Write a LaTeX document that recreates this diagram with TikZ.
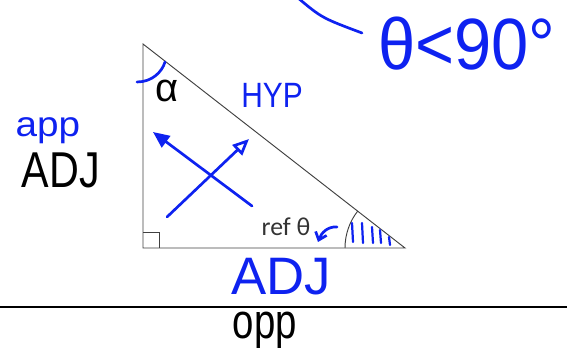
\documentclass[tikz,border=0pt]{standalone}
\usepackage{fontspec}
\setmainfont{Liberation Sans}
\newfontfamily\notefont{Carlito}
\usetikzlibrary{arrows.meta,positioning}
\definecolor{ink}{RGB}{14,34,240}

\begin{document}
\begin{tikzpicture}[
  x=0.03cm, y=-0.03cm,
  side/.style={draw=black!75, line width=0.8pt},
  pen/.style={draw=ink, line width=2.3pt, line cap=round, line join=round},
  hand/.style={text=ink, inner sep=0pt, anchor=base},
  black hand/.style={text=black, inner sep=0pt, anchor=base}
]
\clip (0,0) rectangle (567,348);

% triangle
\coordinate (top)    at (143,44);
\coordinate (corner) at (143,248);
\coordinate (tip)    at (405,248);
\draw[side] (top) -- (corner) -- (tip) -- cycle;
\draw[side] (corner) ++(0,-16) -| ++(16,16);
\draw[side] (tip) ++(180:60) arc[start angle=180, end angle=218, radius=60];

% hatching in the reference angle
\foreach \x/\t/\b in {352/223/242, 362/223/243, 372/227/243, 380/230/243, 389/237/245}
  \draw[pen, line width=1.9pt] (\x,\t) -- (\x+1,\b);

% angle mark at the top
\draw[pen] (137,82) .. controls (152,82) and (162,72) .. (165,62);

% labels
\node[black hand, font=\fontsize{34}{34}\selectfont] (alpha) at (167,102) {α};
\node[hand, font=\fontsize{30}{30}\selectfont, xscale=0.85] (hyp) at (272,108) {HYP};
\node[hand, font=\fontsize{30}{30}\selectfont, xscale=1.1] (app) at (48,137) {app};
\node[black hand, font=\fontsize{43}{43}\selectfont, xscale=0.82] (adjleft) at (61,188) {ADJ};
\node[hand, font=\fontsize{45}{45}\selectfont] (adjbase) at (281,294) {ADJ};
\node[black hand, font=\fontsize{42}{42}\selectfont, xscale=0.78] (opp) at (265,338) {opp};
\node[black hand, text=black!80, font=\notefont\fontsize{22}{22}\selectfont] (ref) at (286,235) {ref θ};
\node[hand, anchor=base west, font=\fontsize{62}{62}\selectfont, xscale=0.92] (cond) at (378,70) {θ<90°};

% crossing arrows
\coordinate (upA) at (167,217);
\coordinate (upB) at (249,139);
\coordinate (dnA) at (252,206);
\coordinate (dnB) at (153,132);
\draw[pen, -{Triangle[open, length=14pt, width=12pt]}] (upA) -- (upB);
\draw[pen, -{Triangle[length=14pt, width=12pt]}] (dnA) -- (dnB);

% small hook arrow to the angle
\coordinate (hookA) at (337,227);
\coordinate (hookB) at (318,242);
\draw[pen, -{Straight Barb[length=6pt, width=10pt]}] (hookA) to[out=175, in=70] (hookB);

% curve at the top
\draw[pen] (298,-2) .. controls (322,18) .. (362,33);

% rule
\draw[line width=1.6pt] (0,307) -- (567,307);
\end{tikzpicture}
\end{document}
